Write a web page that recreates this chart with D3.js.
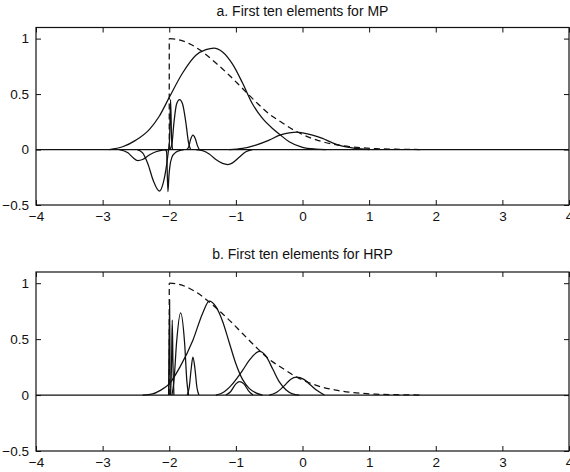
<!DOCTYPE html>
<html>
<head>
<meta charset="utf-8">
<script src="https://cdn.jsdelivr.net/npm/d3@7"></script>
<style>
  body { margin: 0; background: #fff; }
  svg { display: block; font-family: "Liberation Sans", Arial, sans-serif; }
  .curve { fill: none; stroke: #111; stroke-width: 1.25; }
  .env { fill: none; stroke: #111; stroke-width: 1.25; stroke-dasharray: 6,4; }
  .tick text { font-size: 13.5px; fill: #111; }
  .tick line { stroke: #111; }
</style>
</head>
<body>
<svg width="570" height="472"></svg>
<script>
// axis ticks
var xTicks = [-4, -3, -2, -1, 0, 1, 2, 3, 4];
var yTicks = [-0.5, 0, 0.5, 1];
var titles = ["a. First ten elements for MP", "b. First ten elements for HRP"];

// dashed envelope, same in both panels
var envEdge = [[-2, 0], [-2, 1]];
var envelope = [[-2, 1], [-1.9, 0.995], [-1.7, 0.955], [-1.5, 0.88], [-1.3, 0.78], [-1.1, 0.67],
  [-0.9, 0.55], [-0.7, 0.43], [-0.5, 0.32], [-0.3, 0.24], [-0.1, 0.165], [0.1, 0.11], [0.3, 0.07],
  [0.5, 0.044], [0.7, 0.026], [0.9, 0.015], [1.1, 0.008], [1.4, 0.003], [1.8, 0]];
var zeroLine = [[-4, 0], [4, 0]];

// MP atoms
var mpBig = [[-2.9, 0], [-2.7, 0.025], [-2.5, 0.085], [-2.3, 0.18], [-2.15, 0.3], [-2.0, 0.47],
  [-1.8, 0.69], [-1.6, 0.85], [-1.45, 0.9], [-1.33, 0.915], [-1.2, 0.88], [-1.05, 0.77],
  [-0.9, 0.6], [-0.75, 0.41], [-0.6, 0.28], [-0.45, 0.19], [-0.34, 0.135], [-0.2, 0.07],
  [0, 0.02], [0.2, 0.004], [0.35, 0]];
var mpRight = [[-1.1, 0], [-0.9, 0.01], [-0.7, 0.04], [-0.5, 0.085], [-0.34, 0.13], [-0.2, 0.15],
  [-0.09, 0.157], [0, 0.15], [0.15, 0.13], [0.3, 0.1], [0.45, 0.06], [0.6, 0.03], [0.8, 0.01], [1.0, 0]];
var mpDipMid = [[-1.6, 0], [-1.5, -0.01], [-1.4, -0.04], [-1.3, -0.09], [-1.2, -0.125], [-1.12, -0.135],
  [-1.05, -0.12], [-0.95, -0.07], [-0.85, -0.02], [-0.75, 0]];
var mpDipSmall = [[-2.75, 0], [-2.62, -0.03], [-2.55, -0.07], [-2.47, -0.1], [-2.4, -0.09],
  [-2.3, -0.05], [-2.2, -0.02], [-2.1, -0.005], [-2.0, 0]];
var mpDipBig = [[-2.48, 0], [-2.4, -0.03], [-2.32, -0.13], [-2.24, -0.28], [-2.15, -0.375],
  [-2.09, -0.3], [-2.04, -0.14], [-2.01, 0]];
var mpSpikeDown = [[-2.06, 0], [-2.04, -0.02], [-2.02, -0.38], [-2.005, -0.24], [-1.99, -0.15],
  [-1.96, -0.07], [-1.92, -0.035], [-1.85, -0.01], [-1.78, 0]];
var mpSpikeUp = [[-2.01, 0], [-1.995, 0.1], [-1.98, 0.45], [-1.965, 0.1], [-1.95, 0]];
var mpBump45 = [[-1.99, 0], [-1.96, 0.05], [-1.93, 0.24], [-1.89, 0.41], [-1.845, 0.45], [-1.8, 0.41],
  [-1.75, 0.24], [-1.71, 0.06], [-1.68, 0]];
var mpBump12 = [[-1.74, 0], [-1.71, 0.02], [-1.68, 0.09], [-1.645, 0.13], [-1.61, 0.1],
  [-1.58, 0.04], [-1.55, 0]];

// HRP atoms
var hrpSpike85 = [[-2.01, 0], [-1.995, 0.85], [-1.985, 0]];
var hrpSpike67 = [[-1.98, 0], [-1.965, 0.3], [-1.955, 0.67], [-1.945, 0.3], [-1.93, 0]];
var hrpBump73 = [[-1.96, 0], [-1.93, 0.12], [-1.89, 0.47], [-1.83, 0.735], [-1.77, 0.47], [-1.735, 0.12], [-1.71, 0]];
var hrpBump34 = [[-1.73, 0], [-1.7, 0.07], [-1.67, 0.24], [-1.645, 0.34], [-1.615, 0.24], [-1.585, 0.07], [-1.555, 0]];
var hrpBig = [[-2.4, 0], [-2.25, 0.01], [-2.14, 0.04], [-2.0, 0.1], [-1.84, 0.25], [-1.645, 0.49],
  [-1.5, 0.73], [-1.4, 0.84], [-1.3, 0.79], [-1.2, 0.66], [-1.1, 0.47], [-1.0, 0.28],
  [-0.9, 0.14], [-0.8, 0.06], [-0.7, 0.02], [-0.6, 0]];
var hrpBump38 = [[-1.3, 0], [-1.2, 0.02], [-1.08, 0.08], [-0.9, 0.22], [-0.8, 0.31], [-0.645, 0.39],
  [-0.55, 0.35], [-0.445, 0.23], [-0.35, 0.12], [-0.245, 0.045], [-0.15, 0.01], [-0.05, 0]];
var hrpBump12 = [[-1.15, 0], [-1.08, 0.03], [-1.0, 0.1], [-0.945, 0.12], [-0.88, 0.1], [-0.8, 0.03], [-0.74, 0]];
var hrpBump16 = [[-0.5, 0], [-0.4, 0.02], [-0.28, 0.08], [-0.18, 0.14], [-0.09, 0.16], [0.02, 0.14],
  [0.12, 0.09], [0.22, 0.04], [0.33, 0]];

var mpCurves = [zeroLine, mpBig, mpRight, mpDipMid, mpDipSmall, mpDipBig, mpSpikeDown, mpSpikeUp, mpBump45, mpBump12];
var hrpCurves = [zeroLine, hrpBig, hrpBump38, hrpBump12, hrpBump16, hrpBump73, hrpBump34, hrpSpike67, hrpSpike85];

var svg = d3.select("svg");
var left = 36, right = 569;

var panels = [
  { title: titles[0], top: 27.5, bottom: 205, titleY: 16, curves: mpCurves },
  { title: titles[1], top: 272, bottom: 451, titleY: 259, curves: hrpCurves }
];

var x = d3.scaleLinear().domain([-4, 4]).range([left, right]);
var fmt = d3.format("~g");

panels.forEach(function(p) {
  var y = d3.scaleLinear().domain([-0.5, 1.1]).range([p.bottom, p.top]);
  var g = svg.append("g");

  var line = d3.line()
    .x(d => x(d[0]))
    .y(d => y(d[1]))
    .curve(d3.curveMonotoneX);

  // frame
  g.append("rect")
    .attr("x", left).attr("y", p.top)
    .attr("width", right - left).attr("height", p.bottom - p.top)
    .attr("fill", "none").attr("stroke", "#111").attr("stroke-width", 1.2);

  // inward ticks on all four sides, labels on bottom and left only
  g.append("g")
    .attr("transform", "translate(0," + p.bottom + ")")
    .call(d3.axisBottom(x).tickValues(xTicks).tickFormat(fmt).tickSize(-5).tickPadding(6))
    .call(a => a.select(".domain").remove())
    .call(a => a.selectAll("text").attr("font-family", null));
  g.append("g")
    .attr("transform", "translate(0," + p.top + ")")
    .call(d3.axisTop(x).tickValues(xTicks).tickFormat("").tickSize(-5))
    .call(a => a.select(".domain").remove());
  g.append("g")
    .attr("transform", "translate(" + left + ",0)")
    .call(d3.axisLeft(y).tickValues(yTicks).tickFormat(fmt).tickSize(-5).tickPadding(7))
    .call(a => a.select(".domain").remove())
    .call(a => a.selectAll("text").attr("font-family", null));
  g.append("g")
    .attr("transform", "translate(" + right + ",0)")
    .call(d3.axisRight(y).tickValues(yTicks).tickFormat("").tickSize(-5))
    .call(a => a.select(".domain").remove());

  g.selectAll(".tick line").attr("stroke", "#111");

  // solid atoms
  g.selectAll("path.curve")
    .data(p.curves).enter()
    .append("path")
    .attr("class", "curve")
    .attr("d", line);

  // dashed envelope
  g.append("path").attr("class", "env").attr("d", d3.line().x(d => x(d[0])).y(d => y(d[1]))(envEdge));
  g.append("path").attr("class", "env").attr("d", line(envelope));

  g.append("text")
    .attr("x", (left + right) / 2)
    .attr("y", p.titleY)
    .attr("text-anchor", "middle")
    .attr("font-size", 14)
    .attr("fill", "#111")
    .text(p.title);
});
</script>
</body>
</html>
